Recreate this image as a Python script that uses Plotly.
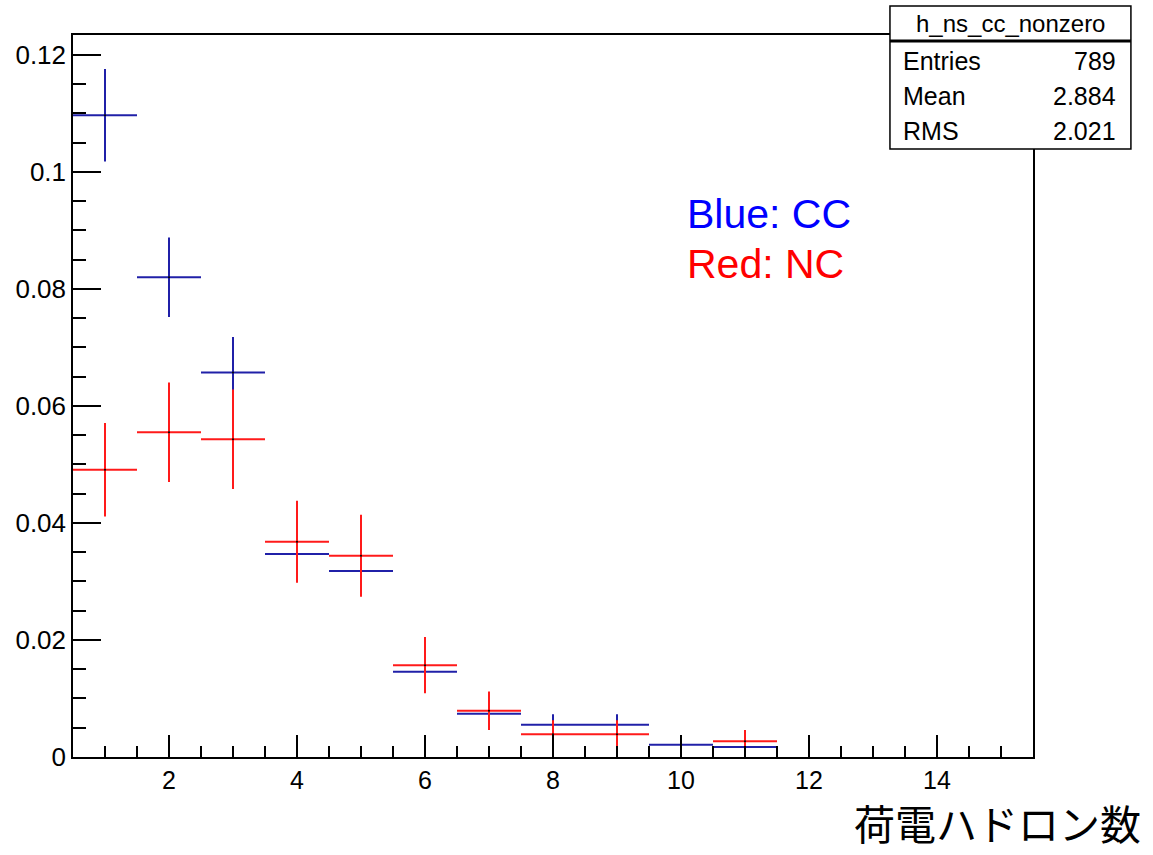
import plotly.graph_objects as go

bins = [1, 2, 3, 4, 5, 6, 7, 8, 9, 10, 11, 12, 13, 14, 15]
cc_vals = [0.1097, 0.0820, 0.0657, 0.0347, 0.0318, 0.01455, 0.0074, 0.0055, 0.0055, 0.0021, 0.0017, 0, 0, 0, 0]
cc_errs = [0.0079, 0.0068, 0.0061, 0.0044, 0.0042, 0.0029, 0.0020, 0.0018, 0.0018, 0.0011, 0.0010, 0, 0, 0, 0]
nc_vals = [0.0491, 0.0555, 0.0543, 0.0368, 0.0344, 0.0157, 0.0079, 0.0039, 0.0039, 0, 0.0027, 0, 0, 0, 0]
nc_errs = [0.0080, 0.0085, 0.0085, 0.0070, 0.0070, 0.0048, 0.0033, 0.0024, 0.0024, 0, 0.0019, 0, 0, 0, 0]
bin_half_width = [0.5] * len(bins)

stats_name = "h_ns_cc_nonzero"
stats_rows = [("Entries", "789"), ("Mean", "2.884"), ("RMS", "2.021")]
x_title = "荷電ハドロン数"

FONT = "Liberation Sans, Arial, sans-serif"
BLUE_LINE = "#2020a8"
RED_LINE = "#ff1a1a"


def nonzero(vals, errs):
    xs, ys, es, ws = [], [], [], []
    for b, v, e, w in zip(bins, vals, errs, bin_half_width):
        if v > 0:
            xs.append(b); ys.append(v); es.append(e); ws.append(w)
    return xs, ys, es, ws


fig = go.Figure()
for vals, errs, col in [(cc_vals, cc_errs, BLUE_LINE), (nc_vals, nc_errs, RED_LINE)]:
    xs, ys, es, ws = nonzero(vals, errs)
    fig.add_trace(go.Scatter(
        x=xs, y=ys, mode="markers",
        marker=dict(size=2, color="black"),
        error_x=dict(type="data", array=ws, symmetric=True, width=0, thickness=2, color=col),
        error_y=dict(type="data", array=es, symmetric=True, width=0, thickness=2, color=col),
        showlegend=False, hoverinfo="skip",
    ))

axis_common = dict(
    showgrid=False, zeroline=False, showline=True, linecolor="black", linewidth=1.5,
    mirror=True, ticks="inside", tickcolor="black",
)
fig.update_xaxes(range=[0.5, 15.5], tick0=0, dtick=2, ticklen=22, tickwidth=1.5,
                 tickfont=dict(family=FONT, size=25, color="black"),
                 minor=dict(dtick=0.5, tick0=0, ticklen=11, ticks="inside", tickcolor="black", tickwidth=1.5),
                 **axis_common)
fig.update_yaxes(range=[0, 0.1234], tick0=0, dtick=0.02, ticklen=28, tickwidth=1.5,
                 tickfont=dict(family=FONT, size=26, color="black"),
                 minor=dict(dtick=0.005, tick0=0, ticklen=13, ticks="inside", tickcolor="black", tickwidth=1.5),
                 **axis_common)

# stats box
bx0, bx1 = 0.851, 1.102
by_top, by_sep, by_bot = 1.0402, 0.9917, 0.8421
fig.add_shape(type="rect", xref="paper", yref="paper", x0=bx0, x1=bx1, y0=by_bot, y1=by_top,
              line=dict(color="black", width=1.5), fillcolor="white", layer="above")
fig.add_shape(type="line", xref="paper", yref="paper", x0=bx0, x1=bx1, y0=by_sep, y1=by_sep,
              line=dict(color="black", width=3), layer="above")
fig.add_annotation(xref="paper", yref="paper", x=(bx0 + bx1) / 2, y=1.0166, text=stats_name,
                   showarrow=False, xanchor="center", yanchor="middle",
                   font=dict(family=FONT, size=24, color="black"))
row_y = [0.9640, 0.9155, 0.8670]
for (lab, val), yy in zip(stats_rows, row_y):
    fig.add_annotation(xref="paper", yref="paper", x=0.8625, y=yy, text=lab, showarrow=False,
                       xanchor="left", yanchor="middle", font=dict(family=FONT, size=25, color="black"))
    fig.add_annotation(xref="paper", yref="paper", x=1.0885, y=yy, text=val, showarrow=False,
                       xanchor="right", yanchor="middle", font=dict(family=FONT, size=25, color="black"))

# legend texts
fig.add_annotation(xref="paper", yref="paper", x=(685 - 73) / 960, y=(757 - 214) / 722, text="Blue: CC",
                   showarrow=False, xanchor="left", yanchor="middle",
                   font=dict(family=FONT, size=41, color="#0000ff"))
fig.add_annotation(xref="paper", yref="paper", x=(685 - 73) / 960, y=(757 - 264) / 722, text="Red: NC",
                   showarrow=False, xanchor="left", yanchor="middle",
                   font=dict(family=FONT, size=41, color="#ff0000"))

# x-axis title
fig.add_annotation(xref="paper", yref="paper", x=(1143 - 73) / 960, y=(757 - 854) / 722, text=x_title,
                   showarrow=False, xanchor="right", yanchor="bottom",
                   font=dict(family="Noto Sans CJK JP", size=41, color="black"))

fig.update_layout(
    width=1153, height=855,
    margin=dict(l=73, r=120, t=35, b=98),
    plot_bgcolor="white", paper_bgcolor="white",
)
fig.write_html("out.html")
